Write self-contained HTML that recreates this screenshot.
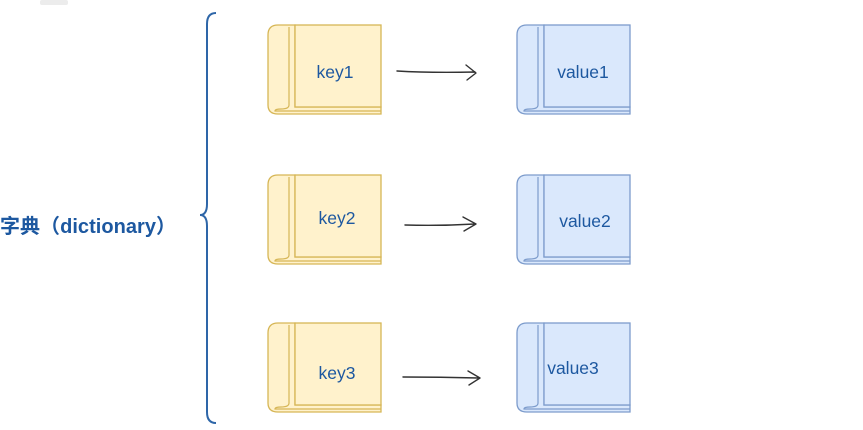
<!DOCTYPE html>
<html><head><meta charset="utf-8"><style>
html,body{margin:0;padding:0;background:#fff;width:863px;height:430px;overflow:hidden}
text{font-family:"Liberation Sans","Noto Sans CJK SC",sans-serif}
</style></head><body>
<svg width="863" height="430" viewBox="0 0 863 430" xmlns="http://www.w3.org/2000/svg">
<defs>
<g id="bk">
 <path d="M27,0 H10 Q0,0 0,10 V80 Q0,89 10,89 H113 V82 H27 Z" stroke-width="1.3"/>
 <rect x="27" y="0" width="86" height="82" stroke-width="1.3"/>
 <path d="M21,2 V80 Q21,84 13,84 Q7,84 7,86 H113" fill="none" stroke-width="1.2"/>
</g>
</defs>
<rect x="40" y="0" width="28" height="5" rx="2" fill="#ececec"/>
<g fill="#fff2cc" stroke="#d6b656">
 <use href="#bk" x="268" y="25"/>
 <use href="#bk" x="268" y="175"/>
 <use href="#bk" x="268" y="323"/>
</g>
<g fill="#dae8fc" stroke="#7d9ccc">
 <use href="#bk" x="517" y="25"/>
 <use href="#bk" x="517" y="175"/>
 <use href="#bk" x="517" y="323"/>
</g>
<g fill="#1d58a0" font-size="17.5" text-anchor="middle">
 <text x="335" y="78">key1</text>
 <text x="583" y="78">value1</text>
 <text x="337" y="224">key2</text>
 <text x="585" y="227">value2</text>
 <text x="337" y="379">key3</text>
 <text x="573" y="374">value3</text>
</g>
<g fill="none" stroke="#333" stroke-width="1.4" stroke-linecap="round" stroke-linejoin="round">
 <path d="M397,71 Q430,73 475,72 M466,65 L476,73 L467,80"/>
 <path d="M405,225 Q440,226 475,224 M463,217 L476,224 L464,231"/>
 <path d="M403,377 Q440,377 479,378 M468,371 L480,378 L469,385"/>
</g>
<path d="M216,13 Q207,13 207,24 V204 Q207,215 200,215 Q207,215 207,226 V412 Q207,423 216,423" fill="none" stroke="#2e66a8" stroke-width="2"/>
<text x="0" y="233" font-size="20" font-weight="bold" fill="#1d58a0" textLength="176">字典（dictionary）</text>
</svg>
</body></html>
